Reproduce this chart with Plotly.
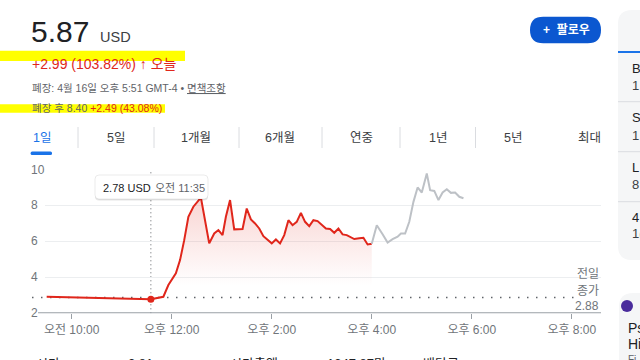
import plotly.graph_objects as go

# ---------------- data ----------------
DATE = "2024-04-16"
reg_times = ["09:30", "11:35", "11:50", "11:56", "12:05", "12:10", "12:15", "12:20", "12:26",
             "12:33", "12:35", "12:45", "12:51", "12:56", "13:01", "13:05", "13:10", "13:15",
             "13:25", "13:30", "13:35", "13:40", "13:45", "13:50", "13:55", "14:00", "14:05",
             "14:10", "14:15", "14:20", "14:25", "14:30", "14:35", "14:40", "14:45", "14:50",
             "14:55", "15:00", "15:05", "15:10", "15:15", "15:20", "15:25", "15:30", "15:34",
             "15:39", "15:45", "15:50", "15:55", "16:00"]
reg_prices = [2.92, 2.78, 2.92, 3.57, 4.22, 4.96, 6.07, 7.37, 7.93,
              8.33, 8.44, 5.89, 6.44, 6.63, 6.35, 7.37, 8.30, 6.67,
              6.69, 7.83, 7.22, 7.00, 6.72, 6.29, 6.11, 5.89, 6.11,
              5.89, 6.35, 7.18, 6.90, 7.09, 7.59, 7.09, 6.85, 7.18,
              7.13, 6.94, 6.72, 6.69, 6.48, 6.72, 6.39, 6.35, 6.26,
              6.13, 6.17, 6.20, 5.83, 5.87]
ah_times = ["16:00", "16:06", "16:13", "16:19", "16:25", "16:31", "16:35", "16:40", "16:45",
            "16:50", "16:55", "17:00", "17:06", "17:10", "17:15", "17:20", "17:25", "17:30",
            "17:35", "17:40", "17:45", "17:50"]
ah_prices = [5.87, 6.90, 6.40, 5.94, 6.13, 6.26, 6.44, 6.44, 7.09,
             8.20, 9.00, 8.72, 9.78, 8.85, 8.81, 8.30, 8.72, 8.90,
             8.70, 8.72, 8.48, 8.40]
prev_close = 2.88
hover_time = "11:35"
hover_price = 2.78
hover_label = "오전 11:35"
y_ticks = [2, 4, 6, 8, 10]
x_tick_times = ["10:00", "12:00", "14:00", "16:00", "18:00", "20:00"]
x_tick_text = ["오전 10:00", "오후 12:00", "오후 2:00", "오후 4:00", "오후 6:00", "오후 8:00"]
x_range = ["09:28", "20:35"]
tabs = ["1일", "5일", "1개월", "6개월", "연중", "1년", "5년", "최대"]
stats_row = ["시가", "2.81", "시가총액", "1347.87만", "배당금"]
side_rows = ["B", "1", "S", "1", "L", "8", "4", "1("]

# ---------------- helpers ----------------
W, H = 640, 360
FONT = "Liberation Sans, Arial, Noto Sans CJK KR, sans-serif"
RED = "#e0261b"
GREY_TXT = "#70757a"


def dt(t):
    return f"{DATE} {t}"


def px(x):
    return x / W


def py(y):
    return 1 - y / H


def rrect(x0, y0, x1, y1, r):
    rx, ry = r / W, r / H
    X0, X1, Y0, Y1 = px(x0), px(x1), py(y0), py(y1)
    return (f"M {X0+rx},{Y0} L {X1-rx},{Y0} Q {X1},{Y0} {X1},{Y0-ry} "
            f"L {X1},{Y1+ry} Q {X1},{Y1} {X1-rx},{Y1} L {X0+rx},{Y1} "
            f"Q {X0},{Y1} {X0},{Y1+ry} L {X0},{Y0-ry} Q {X0},{Y0} {X0+rx},{Y0} Z")


annotations = []
shapes = []


def txt(x, y, s, size, color="#202124", xanchor="left", yanchor="middle", yref="paper"):
    annotations.append(dict(x=px(x), y=(py(y) if yref == "paper" else y), xref="paper", yref=yref,
                            text=s, showarrow=False, xanchor=xanchor, yanchor=yanchor,
                            font=dict(size=size, color=color, family=FONT), borderpad=0))


def paper_path(path, fill, line_color=None, line_width=0, layer="above"):
    shapes.append(dict(type="path", path=path, xref="paper", yref="paper", fillcolor=fill,
                       line=dict(color=line_color or fill, width=line_width), layer=layer))


def paper_line(x0, y0, x1, y1, color, width, dash="solid", layer="above"):
    shapes.append(dict(type="line", xref="paper", yref="paper", x0=px(x0), x1=px(x1),
                       y0=py(y0), y1=py(y1), line=dict(color=color, width=width, dash=dash),
                       layer=layer))


# ---------------- figure ----------------
fig = go.Figure()

fig.add_trace(go.Scatter(
    x=[dt(t) for t in reg_times], y=reg_prices, mode="lines",
    line=dict(color=RED, width=2), fill="tozeroy",
    fillgradient=dict(type="vertical", start=3.6, stop=8.6,
                      colorscale=[[0, "rgba(224,38,27,0)"], [1, "rgba(224,38,27,0.2)"]]),
    hoverinfo="skip"))
fig.add_trace(go.Scatter(
    x=[dt(t) for t in ah_times], y=ah_prices, mode="lines",
    line=dict(color="#bdc1c6", width=2), hoverinfo="skip"))
fig.add_trace(go.Scatter(
    x=[dt(hover_time)], y=[hover_price], mode="markers",
    marker=dict(size=7, color=RED), hoverinfo="skip"))

# previous close dotted line
shapes.append(dict(type="line", xref="paper", yref="y", x0=px(32), x1=px(574),
                   y0=prev_close, y1=prev_close,
                   line=dict(color="#5f6368", width=1.5, dash="1.5px,7.5px"), layer="below"))
# hover vertical dotted line
shapes.append(dict(type="line", xref="x", yref="y", x0=dt(hover_time), x1=dt(hover_time),
                   y0=2, y1=10, line=dict(color="#5f6368", width=1, dash="1px,3px"),
                   layer="below"))
# axis base line
shapes.append(dict(type="line", xref="paper", yref="y", x0=px(38), x1=px(601), y0=2, y1=2,
                   line=dict(color="#9aa0a6", width=2), layer="above"))

# y tick labels
for v in y_ticks:
    txt(30, v, str(v), 12, GREY_TXT, yref="y")

# prev close label
txt(600, 274, "전일", 12, GREY_TXT, xanchor="right")
txt(600, 291, "종가", 12, GREY_TXT, xanchor="right")
txt(600, 306, f"{prev_close:.2f}", 12, GREY_TXT, xanchor="right")

# tooltip
paper_path(rrect(95, 176, 208, 200.5, 4), "rgba(0,0,0,0.10)")
paper_path(rrect(95, 175, 208, 199, 4), "white", "rgba(0,0,0,0.08)", 1)
txt(102, 187.5, f"{hover_price:.2f} USD", 11, "#202124")
txt(154, 187.5, hover_label, 11, "#5f6368")

# ---------------- header ----------------
last_price = reg_prices[-1]
txt(30, 31, f"{last_price:.2f}", 30, "#202124")
txt(99, 37, "USD", 14.5, "#3c4043")

paper_path(rrect(0, 50.7, 185, 61, 0), "#ffff00", layer="below")
txt(31, 63.5, "+2.99 (103.82%) <b>↑</b> 오늘", 14, RED)
txt(31, 88, "폐장: 4월 16일 오후 5:51 GMT-4 • <u>면책조항</u>", 10.5, "#5f6368")
paper_path(rrect(0, 104.3, 165, 112.7, 0), "#ffff00", layer="below")
txt(31, 107.5, f"폐장 후 {ah_prices[-1]:.2f} <span style='color:{RED}'>+2.49 (43.08%)</span>",
    10.5, "#5f6368")

# follow button
paper_path(rrect(530, 16.7, 601, 43.3, 13.3), "#0b57d0")
txt(566, 30, "<b>+  팔로우</b>", 12, "white", xanchor="center")

# tabs
tab_x = [42, 116, 196, 280, 361, 437.5, 513, 589.5]
sep_x = [78, 154, 239, 322, 400, 475.5]
for i, (label, x) in enumerate(zip(tabs, tab_x)):
    txt(x, 138, label, 12.5, "#1a73e8" if i == 0 else "#3c4043", xanchor="center")
for x in sep_x:
    paper_line(x, 127, x, 148, "#dadce0", 1)
paper_path(rrect(30.6, 151.5, 52, 155, 1.5), "#1a73e8")

# right side panels
paper_path(rrect(618, 10, 690, 260, 14), "#f5f6f7", layer="below")
paper_line(618, 52, 640, 52, "#1a73e8", 2)
for y in [101.7, 151.7, 201.7]:
    paper_line(618, y, 640, y, "#dadce0", 1)
for i, (s, y) in enumerate(zip(side_rows, [68, 85, 118, 135, 167, 185, 217, 233])):
    txt(631, y, s, 13, "#202124" if i % 2 == 0 else "#3c4043")
paper_path(rrect(619, 293, 690, 420, 14), "#f5f6f7", layer="below")
shapes.append(dict(type="circle", xref="paper", yref="paper", x0=px(621), x1=px(633),
                   y0=py(300), y1=py(312), fillcolor="#4a2c9c", line=dict(width=0)))
txt(627, 328, "Ps", 14, "#202124")
txt(627, 344, "Hi", 14, "#202124")
txt(627, 359, "Fi", 10, "#5f6368")

# bottom stats row (cut off)
for s, x in zip(stats_row, [35, 127, 229, 326, 422]):
    txt(x, 355, s, 13, "#202124", yanchor="top")

fig.update_layout(
    width=W, height=H, margin=dict(l=0, r=0, t=0, b=0), autosize=False,
    paper_bgcolor="white", plot_bgcolor="white", showlegend=False, hovermode=False,
    font=dict(family=FONT),
    xaxis=dict(type="date", domain=[px(45), px(601)], range=[dt(x_range[0]), dt(x_range[1])],
               tickvals=[dt(t) for t in x_tick_times], ticktext=x_tick_text,
               ticks="outside", ticklen=5, tickcolor="#9aa0a6", tickwidth=1,
               showgrid=False, zeroline=False, showline=False,
               tickfont=dict(size=12, color=GREY_TXT, family=FONT), fixedrange=True),
    yaxis=dict(domain=[py(313.3), py(169.5)], range=[2, 10], tickvals=y_ticks,
               showticklabels=False, showgrid=True, gridcolor="#eceef0", gridwidth=1,
               zeroline=False, showline=False, fixedrange=True),
    shapes=shapes, annotations=annotations,
)

fig.write_html("out.html", config={"displayModeBar": False},
               post_script="document.body.style.margin='0';document.body.style.overflow='hidden';")
